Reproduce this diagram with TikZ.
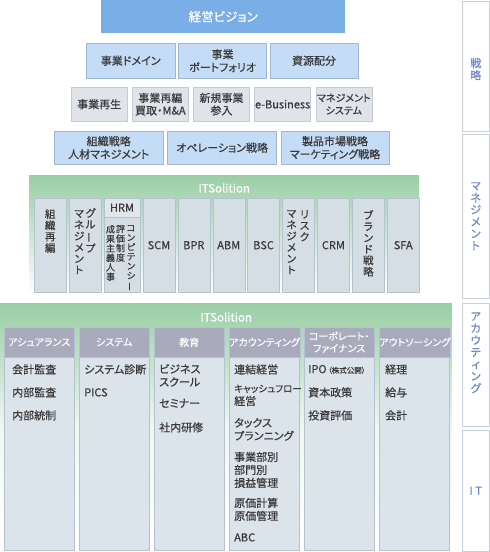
\documentclass[tikz,border=0pt]{standalone}
\usepackage{fontspec}
\setmainfont{Noto Sans CJK JP}[RawFeature=+palt, FakeBold=0.5]
\usetikzlibrary{positioning}

\definecolor{visionblue}{HTML}{7AAEE6}
\definecolor{stratblue}{HTML}{C5DCF6}
\definecolor{stratline}{HTML}{9DB6D6}
\definecolor{plangray}{HTML}{E0E4EA}
\definecolor{planline}{HTML}{C4CBD6}
\definecolor{solgreen}{HTML}{9ACEA5}
\definecolor{colfill}{HTML}{D5DEE5}
\definecolor{colline}{HTML}{B4C2D1}
\definecolor{subfill}{HTML}{E1E6EC}
\definecolor{headfill}{HTML}{A9AABC}
\definecolor{bodyfill}{HTML}{DBE4EA}
\definecolor{tagline}{HTML}{C8D0DC}
\definecolor{tagblue}{HTML}{6D86C6}
\definecolor{ink}{HTML}{3A3A3A}

\newcommand{\fs}[2]{\fontsize{#1}{#2}\selectfont}
\newcommand{\tbar}{\rotatebox[origin=c]{90}{ー}}

\begin{document}
\begin{tikzpicture}[x=1pt, y=-1pt,
  every node/.style={inner sep=0pt, text=ink},
  sz/.style 2 args={minimum width=#1, minimum height=#2},
  vision/.style={anchor=north west, fill=visionblue, text=white, font=\fs{12.5}{15}},
  stratbox/.style={anchor=north west, draw=stratline, fill=stratblue, align=center, font=\fs{11}{13}},
  planbox/.style={anchor=north west, draw=planline, fill=plangray, align=center, font=\fs{11}{12.5}},
  panel/.style={anchor=north west, top color=solgreen, bottom color=white},
  soltitle/.style={text=white, font=\fs{11.5}{13}},
  mcol/.style={anchor=north west, draw=colline, fill=colfill, sz={32}{94}, font=\fs{11}{13}},
  colsub/.style={anchor=north west, draw=colline, fill=subfill, sz={36}{19}, font=\fs{11}{13}},
  tate/.style={anchor=north, align=center, font=\fs{10.5}{11.3}},
  tatesmall/.style={anchor=north, align=center, font=\fs{9}{9.5}},
  colhead/.style={anchor=north west, draw=colline, fill=headfill, text=white, sz={70}{30}, align=center, font=\fs{10}{12}},
  colbody/.style={anchor=north west, draw=colline, fill=bodyfill, sz={70}{193}},
  listitem/.style={anchor=west, align=left, font=\fs{11}{13}},
  sidetag/.style={anchor=north west, draw=tagline, fill=white, minimum width=27},
  sidetext/.style={text=tagblue, align=center, font=\fs{11}{12}}
]
\useasboundingbox (0,0) rectangle (490,552);

% strategy rows
\node[vision, sz={244}{33}] (vision) at (101,0) {経営ビジョン};

\node[stratbox, sz={89}{35}] (domain) at (86,43) {事業ドメイン};
\node[stratbox, sz={88}{35}, right=3pt of domain] (portfolio) {事業\\ポートフォリオ};
\node[stratbox, sz={88}{35}, right=3pt of portfolio] (resource) {資源配分};

\node[planbox, sz={56}{34}] (renew) at (71,87) {事業再生};
\node[planbox, sz={56}{34}, right=4.75pt of renew] (restruct) {事業再編\\買取・M\&A};
\node[planbox, sz={56}{34}, right=4.75pt of restruct] (newbiz) {新規事業\\参入};
\node[planbox, sz={56}{34}, right=4.75pt of newbiz] (ebiz) {e-Business};
\node[planbox, sz={56}{34}, right=4.75pt of ebiz, font=\fs{10}{12.5}] (mgmtsys) {マネジメント\\システム};

\node[stratbox, sz={109}{33}] (orgstrat) at (54,131) {組織戦略\\人材マネジメント};
\node[stratbox, sz={109}{33}, right=4pt of orgstrat] (opstrat) {オペレーション戦略};
\node[stratbox, sz={108}{33}, right=4pt of opstrat] (mktstrat) {製品市場戦略\\マーケティング戦略};

% management solutions
\node[panel, sz={390}{120}] (sol1) at (29,175) {};
\node[soltitle] (sol1-title) at ([yshift=-13]sol1.north) {ITSolition};
\node[mcol] (regroup) at (34,198) {};
\node[mcol, right=2.5pt of regroup] (groupmgmt) {};
\node[mcol, right=2.5pt of groupmgmt, minimum width=36] (hrm) {};
\node[mcol, right=2.5pt of hrm] (scm) {SCM};
\node[mcol, right=2.5pt of scm] (bpr) {BPR};
\node[mcol, right=2.5pt of bpr] (abm) {ABM};
\node[mcol, right=2.5pt of abm] (bsc) {BSC};
\node[mcol, right=2.5pt of bsc] (riskmgmt) {};
\node[mcol, right=2.5pt of riskmgmt] (crm) {CRM};
\node[mcol, right=2.5pt of crm] (brand) {};
\node[mcol, right=2.5pt of brand] (sfa) {SFA};

\node[tate] (regroup-t) at ([yshift=-11]regroup.north) {組\\織\\再\\編};
\node[tate] (groupmgmt-r) at ([xshift=5.5,yshift=-10]groupmgmt.north) {グ\\ル\\\tbar\\プ};
\node[tate] (groupmgmt-l) at ([xshift=-6,yshift=-12]groupmgmt.north) {マ\\ネ\\ジ\\メ\\ン\\ト};
\node[colsub] (hrm-head) at (hrm.north west) {HRM};
\node[tatesmall] (hrm-l) at ([xshift=-11.5,yshift=-27]hrm.north) {成\\果\\主\\義\\人\\事};
\node[tatesmall] (hrm-m) at ([xshift=-1.5,yshift=-27]hrm.north) {評\\価\\制\\度};
\node[tatesmall] (hrm-r) at ([xshift=9,yshift=-27]hrm.north) {コ\\ン\\ピ\\テ\\ン\\シ\\\tbar};
\node[tate] (riskmgmt-r) at ([xshift=6,yshift=-12]riskmgmt.north) {リ\\ス\\ク};
\node[tate] (riskmgmt-l) at ([xshift=-7,yshift=-12]riskmgmt.north) {マ\\ネ\\ジ\\メ\\ン\\ト};
\node[tate] (brand-t) at ([yshift=-12]brand.north) {ブ\\ラ\\ン\\ド\\戦\\略};

% accounting / IT solutions
\node[panel, sz={452}{249}, middle color=solgreen!15] (sol2) at (0,303) {};
\node[soltitle] (sol2-title) at ([yshift=-14]sol2.north) {ITSolition};
\foreach \i/\nm/\ttl in {0/assur/アシュアランス, 1/sys/システム, 2/edu/教育,
    3/acct/アカウンティング, 4/corp/{コーポレート・\\ファイナンス}, 5/outs/アウトソーシング}{
  \node[colhead] (\nm-head) at (4+75*\i,327) {\ttl};
  \node[colbody] (\nm-body) at (\nm-head.south west) {};
}
\foreach \dy/\txt [count=\k] in {12/会計監査, 35/内部監査, 58/内部統制}
  \node[listitem] (assur\k) at ([xshift=8,yshift=-\dy]assur-body.north west) {\txt};
\foreach \dy/\txt [count=\k] in {12/システム診断, 35/PICS}
  \node[listitem] (sys\k) at ([xshift=5,yshift=-\dy]sys-body.north west) {\txt};
\foreach \dy/\txt [count=\k] in {18/{ビジネス\\スクール}, 46/セミナー, 70/社内研修}
  \node[listitem] (edu\k) at ([xshift=5,yshift=-\dy]edu-body.north west) {\txt};
\foreach \dy/\txt [count=\k] in {12/連結経営, 38/{{\fs{9.5}{13}キャッシュフロー}\\経営}, 72/{タックス\\プランニング},
    112.5/{事業部別\\部門別\\損益管理}, 152/{原価計算\\原価管理}, 180/ABC}
  \node[listitem] (acct\k) at ([xshift=5,yshift=-\dy]acct-body.north west) {\txt};
\foreach \dy/\txt [count=\k] in {12/IPO\kern1.5pt{\fs{7.5}{9}（株式公開）}, 35/資本政策, 58/投資評価}
  \node[listitem] (corp\k) at ([xshift=4,yshift=-\dy]corp-body.north west) {\txt};
\foreach \dy/\txt [count=\k] in {12/経理, 35/給与, 58/会計}
  \node[listitem] (outs\k) at ([xshift=6,yshift=-\dy]outs-body.north west) {\txt};

% side tags
\node[sidetag, minimum height=130] (tag-strat) at (462,1) {};
\node[sidetag, minimum height=164] (tag-mgmt) at (462,134) {};
\node[sidetag, minimum height=123] (tag-acct) at (462,303) {};
\node[sidetag, minimum height=121] (tag-it) at (462,430) {};
\node[sidetext] (tag-strat-t) at ([yshift=-3]tag-strat.center) {戦\\略};
\node[sidetext] (tag-mgmt-t) at (tag-mgmt.center) {マ\\ネ\\ジ\\メ\\ン\\ト};
\node[sidetext] (tag-acct-t) at ([yshift=12]tag-acct.center) {ア\\カ\\ウ\\テ\\ィ\\ン\\グ};
\node[sidetext] (tag-it-t) at (tag-it.center) {I T};
\end{tikzpicture}
\end{document}
